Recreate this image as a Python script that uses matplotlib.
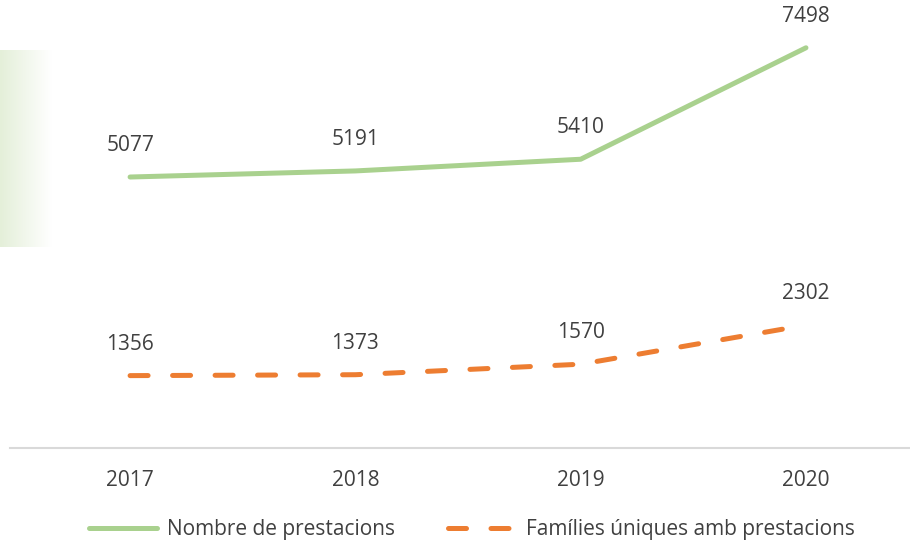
import matplotlib
matplotlib.use("Agg")
import matplotlib.pyplot as plt
from matplotlib.colors import LinearSegmentedColormap
import numpy as np

years = ["2017", "2018", "2019", "2020"]
prestacions = [5077, 5191, 5410, 7498]
families = [1356, 1373, 1570, 2302]
label_prest = "Nombre de prestacions"
label_fam = "Famílies úniques amb prestacions"

plt.rcParams['font.family'] = ['Open Sans', 'DejaVu Sans']
W, H = 910, 548
FS = 15
TXT = "#404040"
GREEN = "#A9D18E"
ORANGE = "#ED7D31"
fig = plt.figure(figsize=(W/100, H/100), dpi=100)

# faint green gradient panel at the left
gax = fig.add_axes([0, 1 - 247/H, 52/W, (247-50)/H])
grad = np.linspace(0, 1, 100)[None, :]
cm = LinearSegmentedColormap.from_list("g", ["#E4EFD9", "#FFFFFF"])
gax.imshow(grad, aspect='auto', cmap=cm, extent=[0, 1, 0, 1])
gax.axis('off')

ax = fig.add_axes([10/W, 1 - 448/H, 908.6/W, (448-21)/H])
ax.patch.set_alpha(0)
x = np.arange(len(years))
l1, = ax.plot(x, prestacions, color=GREEN, lw=3.6, solid_capstyle='round', label=label_prest)
l2, = ax.plot(x, families, color=ORANGE, lw=3.6, dashes=(3.6, 4.9), dash_capstyle='round', label=label_fam)

for xi, v in zip(x, prestacions):
    ax.annotate(str(v), (xi, v), xytext=(0, 22.5), textcoords='offset points', ha='center', va='center',
                fontsize=FS, color=TXT)
for xi, v in zip(x, families):
    ax.annotate(str(v), (xi, v), xytext=(0, 22.5), textcoords='offset points', ha='center', va='center',
                fontsize=FS, color=TXT)

ax.set_xlim(-0.533, 3.5)
ax.set_ylim(0, 8000)
ax.set_xticks(x)
ax.set_xticklabels(years, fontsize=FS, color=TXT)
ax.tick_params(axis='x', length=0, pad=15.5)
ax.set_yticks([])
for s in ['top', 'right', 'left']:
    ax.spines[s].set_visible(False)
ax.spines['bottom'].set_color("#D9D9D9")
ax.spines['bottom'].set_linewidth(1.5)

ly = 1 - 530/H
leg1 = fig.legend(handles=[l1], loc='center left', bbox_to_anchor=(89/W, ly), frameon=False,
                  fontsize=FS, handlelength=68/(FS*100/72), handletextpad=0.5,
                  borderpad=0, borderaxespad=0)
leg2 = fig.legend(handles=[l2], loc='center left', bbox_to_anchor=(448/W, ly), frameon=False,
                  fontsize=FS, handlelength=62/(FS*100/72), handletextpad=0.78,
                  borderpad=0, borderaxespad=0)
for lg in (leg1, leg2):
    for t in lg.get_texts():
        t.set_color(TXT)

fig.savefig("out.png", dpi=100)
